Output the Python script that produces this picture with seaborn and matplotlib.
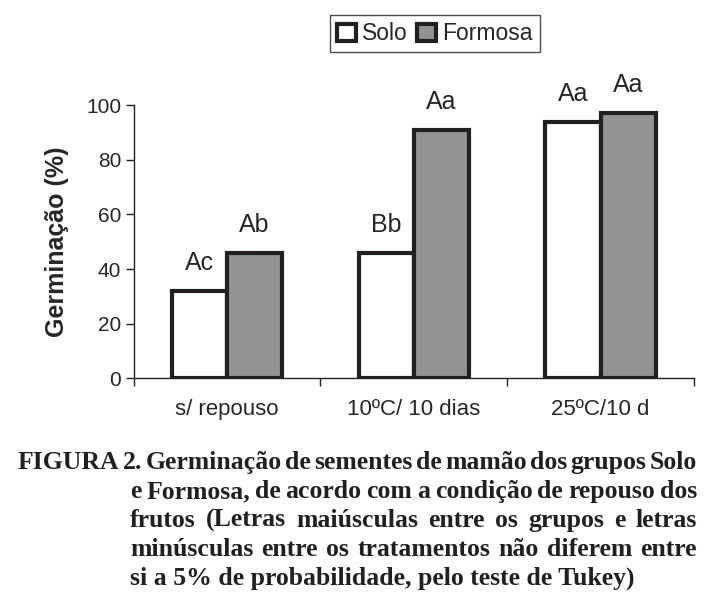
import matplotlib
matplotlib.use('Agg')
import matplotlib.pyplot as plt
import pandas as pd
import seaborn as sns

# Data
condicoes = ['s/ repouso', '10ºC/ 10 dias', '25ºC/10 d']
grupos = ['Solo', 'Formosa']
solo = [32, 46, 94]
formosa = [46, 91, 97]
letras_solo = ['Ac', 'Bb', 'Aa']
letras_formosa = ['Ab', 'Aa', 'Aa']
cores = {'Solo': 'white', 'Formosa': '#939393'}

legenda_linhas = [
    'FIGURA 2. Germinação de sementes de mamão dos grupos Solo',
    'e Formosa, de acordo com a condição de repouso dos',
    'frutos (Letras maiúsculas entre os grupos e letras',
    'minúsculas entre os tratamentos não diferem entre',
    'si a 5% de probabilidade, pelo teste de Tukey)',
]

df = pd.DataFrame({
    'condicao': condicoes * 2,
    'grupo': ['Solo'] * 3 + ['Formosa'] * 3,
    'germinacao': solo + formosa,
})

sns.set_style('white')
plt.rcParams['font.family'] = ['Liberation Sans', 'DejaVu Sans']

W, H = 711, 615
fig = plt.figure(figsize=(W / 100, H / 100), dpi=100)
ax = fig.add_axes([0.188, 0.385, 0.788, 0.444])

sns.barplot(data=df, x='condicao', y='germinacao', hue='grupo',
            hue_order=grupos, palette=cores, width=0.59,
            edgecolor='#231f20', linewidth=3, ax=ax)

ax.set_xlim(-0.5, 2.5)
ax.set_ylim(0, 100)
ax.set_yticks([0, 20, 40, 60, 80, 100])
ax.set_xticks([-0.5, 0.5, 1.5, 2.5], minor=True)
ax.tick_params(axis='x', which='major', bottom=False, length=0, pad=15, labelsize=16)
ax.tick_params(axis='x', which='minor', bottom=True, length=6, width=1,
               direction='out', color='#231f20')
ax.tick_params(axis='y', left=True, length=6, width=1, direction='out',
               color='#231f20', labelsize=15, pad=3)
ax.set_xlabel('')
ax.set_ylabel('Germinação (%)', fontsize=18, fontweight='bold', labelpad=12)

for side in ['top', 'right']:
    ax.spines[side].set_visible(False)
for side in ['left', 'bottom']:
    ax.spines[side].set_color('#231f20')
    ax.spines[side].set_linewidth(1)

for cont, letras in zip(ax.containers, [letras_solo, letras_formosa]):
    ax.bar_label(cont, labels=letras, padding=11.5, fontsize=18)

handles, labels = ax.get_legend_handles_labels()
ax.legend(handles, labels, loc='lower center', bbox_to_anchor=(0.538, 1.152),
          ncol=2, frameon=True, fancybox=False, edgecolor='#231f20',
          fontsize=16.5, handlelength=0.8, handleheight=0.8, handletextpad=0.3,
          columnspacing=0.4, borderpad=0.3)
ax.get_legend().get_frame().set_linewidth(1)

# caption, justified like the original (last line left aligned)
fig.canvas.draw()
renderer = fig.canvas.get_renderer()
fonte = dict(fontsize=18.5, fontweight='bold',
             family=['Liberation Serif', 'DejaVu Serif'], color='#231f20',
             va='baseline', ha='left')
direita = 697
for i, linha in enumerate(legenda_linhas):
    x0 = 18 if i == 0 else 130
    base = H - (469 + 29 * i)
    if i == len(legenda_linhas) - 1:
        fig.text(x0 / W, base / H, linha, **fonte)
        continue
    palavras = linha.split(' ')
    textos = [fig.text(0, base / H, p, **fonte) for p in palavras]
    larguras = [t.get_window_extent(renderer).width for t in textos]
    gap = (direita - x0 - sum(larguras)) / (len(palavras) - 1)
    x = x0
    for t, w in zip(textos, larguras):
        t.set_x(x / W)
        x += w + gap

fig.savefig('out.png', dpi=100)
